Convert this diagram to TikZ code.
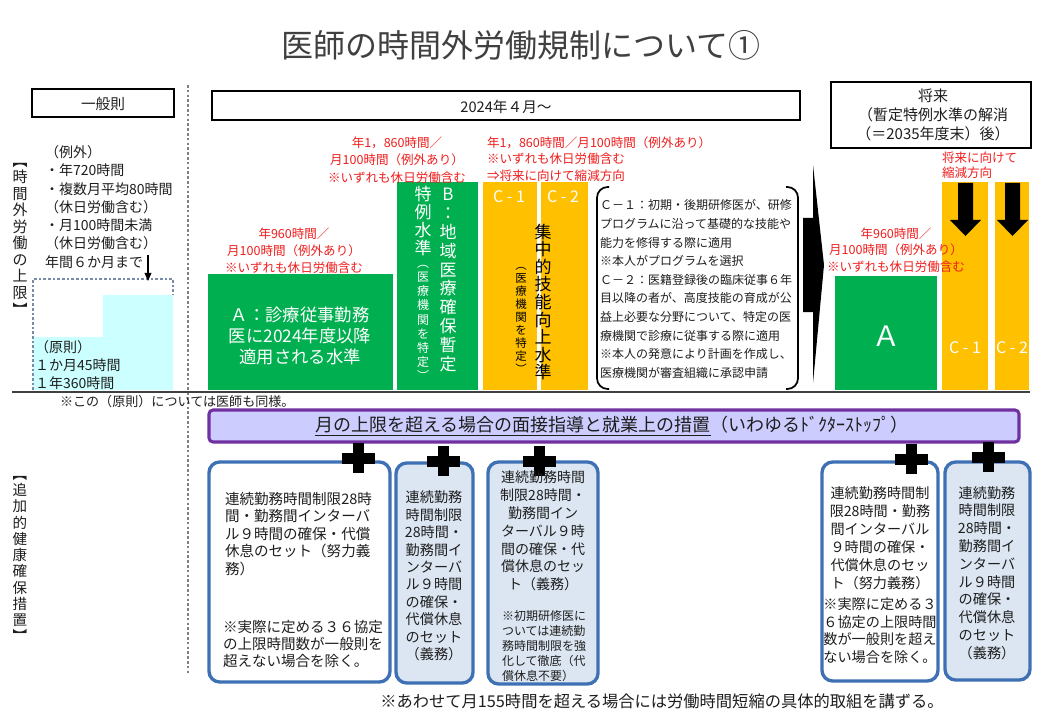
\documentclass[tikz,border=0pt]{standalone}
\usepackage{fontspec}
\setmainfont{Noto Sans CJK JP}
\usetikzlibrary{arrows.meta}
\definecolor{grn}{RGB}{0,176,80}
\definecolor{org}{RGB}{255,192,0}
\definecolor{redt}{RGB}{240,30,30}
\definecolor{cyanf}{RGB}{204,255,255}
\definecolor{purp}{RGB}{112,48,160}
\definecolor{lav}{RGB}{204,204,255}
\definecolor{bbord}{RGB}{62,112,180}
\definecolor{bfill}{RGB}{220,230,242}
\definecolor{txt}{RGB}{30,30,30}
\definecolor{ttl}{RGB}{64,64,64}
\definecolor{dashc}{RGB}{120,140,170}
\newcommand{\fs}[2]{\fontsize{#1pt}{#2pt}\selectfont}
\newcommand{\plusat}[2]{\fill (#1-16.5,#2-5.5) rectangle (#1+16.5,#2+5.5); \fill (#1-5.5,#2-15) rectangle (#1+5.5,#2+15);}
\begin{document}
\begin{tikzpicture}[x=0.75pt,y=-0.75pt,
  every node/.style={inner sep=0pt, outer sep=0pt, text=txt},
  hdrbox/.style={draw=black, line width=2.2pt, fill=white},
  redlbl/.style={text=redt, font=\fs{9.4}{12.6}, align=center},
  bluebox/.style={draw=bbord, line width=2.5pt, rounded corners=8pt},
  vtxt/.style={align=center},
  whitetxt/.style={text=white}
]
\useasboundingbox (0,0) rectangle (1049,720);
\fill[white] (0,0) rectangle (1049,720);

% title
\node[text=ttl, font=\fs{24}{28}] (title) at (521,45) {医師の時間外労働規制について①};

% header boxes
\draw[hdrbox] (32,89) rectangle (174,117);
\node[font=\fs{11}{13}] (ippan) at (103,104) {一般則};
\draw[hdrbox] (212,91) rectangle (800,120);
\node[font=\fs{11}{13}] (y2024) at (506,107) {2024年４月～};
\draw[hdrbox] (831,82) rectangle (1031,148);
\node[font=\fs{11.25}{14.25}, align=center] (future) at (933,115) {将来\\（暫定特例水準の解消\\（＝2035年度末）後）};

% dotted divider
\draw[gray, line width=0.9pt, dash pattern=on 2pt off 1.6pt] (188,85) -- (188,675);

% vertical side labels
\node[font=\fs{11.25}{12.4}, vtxt] (lbl1) at (20,239) {︻\\時\\間\\外\\労\\働\\の\\上\\限\\︼};
\node[font=\fs{10.9}{12.2}, vtxt] (lbl2) at (20,559) {︻\\追\\加\\的\\健\\康\\確\\保\\措\\置\\︼};

% general rule area
\fill[cyanf] (33,390) -- (33,337) -- (103,337) -- (103,295) -- (173,295) -- (173,390) -- cycle;
\draw[dashc, line width=0.8pt, dash pattern=on 2pt off 1.5pt] (33,390) -- (33,279) -- (173,279) -- (173,295);
\node[font=\fs{10.5}{13.7}, align=left, anchor=west] (exc) at (45,207) {（例外）\\・年720時間\\・複数月平均80時間\\（休日労働含む）\\・月100時間未満\\（休日労働含む）\\年間６か月まで};
\coordinate (arrtop) at (148,255);
\coordinate (arrbot) at (148,281);
\draw[-{Triangle[length=6pt,width=5pt]}, line width=1pt] (arrtop) -- (arrbot);
\node[font=\fs{10.5}{13.5}, align=left, anchor=west] (gensoku) at (35,365) {（原則）\\１か月45時間\\１年360時間};
\node[font=\fs{9.8}{12}, anchor=west] (note1) at (60,402) {※この（原則）については医師も同様。};

% A (2024)
\fill[grn] (208,274) rectangle (393,390);
\node[whitetxt, font=\fs{13}{15.75}, align=center] (atext) at (300,336) {Ａ：診療従事勤務\\医に2024年度以降\\適用される水準};
\node[redlbl] (reda) at (294,251) {年960時間／\\月100時間（例外あり）\\※いずれも休日労働含む};

% B
\fill[grn] (397,182) rectangle (478,390);
\node[whitetxt, font=\fs{12.75}{14.2}, vtxt] (bcol1) at (448,280) {B\\：\\地\\域\\医\\療\\確\\保\\暫\\定};
\node[whitetxt, font=\fs{12.75}{13.7}, vtxt] (bcol2) at (423,221) {特\\例\\水\\準};
\node[whitetxt, font=\fs{9}{10.6}, vtxt] (bcol3) at (423,323) {︵\\医\\療\\機\\関\\を\\特\\定\\︶};
\node[redlbl, font=\fs{9.4}{13}] (redb) at (397,160) {年1，860時間／\\月100時間（例外あり）\\※いずれも休日労働含む};

% C-1 / C-2
\fill[org] (483,182) rectangle (537,390);
\fill[org] (541,182) rectangle (588,390);
\node[whitetxt, font=\fs{12}{14}] (c1lbl) at (509,197) {C - 1};
\node[whitetxt, font=\fs{12}{14}] (c2lbl) at (563,197) {C - 2};
\node[font=\fs{12.75}{13.2}, vtxt, text=black] (ccol1) at (543,302) {集\\中\\的\\技\\能\\向\\上\\水\\準};
\node[font=\fs{8.6}{9.75}, vtxt, text=black] (ccol2) at (521,320) {︵\\医\\療\\機\\関\\を\\特\\定\\︶};
\node[redlbl, align=left, anchor=west] (redc) at (487,159) {年1，860時間／月100時間（例外あり）\\※いずれも休日労働含む\\⇒将来に向けて縮減方向};

% bracket explanation
\draw[line width=1.3pt, rounded corners=8pt] (609,187) -- (597,187) -- (597,389) -- (609,389);
\draw[line width=1.3pt, rounded corners=8pt] (786,187) -- (798,187) -- (798,389) -- (786,389);
\node[font=\fs{9}{13.95}, align=left, anchor=west] (cexpl) at (600,289) {Ｃ－１：初期・後期研修医が、研修\\プログラムに沿って基礎的な技能や\\能力を修得する際に適用\\※本人がプログラムを選択\\Ｃ－２：医籍登録後の臨床従事６年\\目以降の者が、高度技能の育成が公\\益上必要な分野について、特定の医\\療機関で診療に従事する際に適用\\※本人の発意により計画を作成し、\\医療機関が審査組織に承認申請};

% big arrow
\fill[black] (803,218) -- (813,218) -- (813,165) -- (824,265) -- (813,383) -- (813,312) -- (803,312) -- cycle;

% future section
\fill[grn] (835,276) rectangle (937,390);
\node[whitetxt, font=\fs{21}{24}] (afut) at (886,336) {Ａ};
\fill[org] (942,182) rectangle (988,390);
\fill[org] (995,182) rectangle (1029,390);
\node[whitetxt, font=\fs{12}{14}] (fc1) at (965,348) {C - 1};
\node[whitetxt, font=\fs{12}{14}] (fc2) at (1012,348) {C - 2};
\fill[black] (958,183) -- (973,183) -- (973,220) -- (981,220) -- (965.5,236) -- (950,220) -- (958,220) -- cycle;
\fill[black] (1005,183) -- (1020,183) -- (1020,220) -- (1028,220) -- (1012.5,236) -- (997,220) -- (1005,220) -- cycle;
\node[redlbl, font=\fs{9.4}{12.4}] (redfa) at (896,250) {年960時間／\\月100時間（例外あり）\\※いずれも休日労働含む};
\node[redlbl, font=\fs{9.4}{11.5}, align=left, anchor=west] (redfc) at (942,165) {将来に向けて\\縮減方向};

% base line
\draw[ttl, line width=1.5pt] (12,391.5) -- (1030,391.5);

% purple bar
\draw[draw=purp, fill=lav, line width=2.3pt, rounded corners=3pt] (209,410) rectangle (1019,442);
\node[font=\fs{13.5}{16}] (doctor) at (612,426) {\underline{月の上限を超える場合の面接指導と就業上の措置}（いわゆるﾄﾞｸﾀｰｽﾄｯﾌﾟ）};

% bottom boxes
\draw[bluebox, fill=white] (209,462) rectangle (390,682);
\draw[bluebox, fill=bfill] (396,463) rectangle (473,683);
\draw[bluebox, fill=bfill] (488,462) rectangle (598,684);
\draw[bluebox, fill=white] (822,462) rectangle (938,681);
\draw[bluebox, fill=bfill] (945,462) rectangle (1030,680);

\plusat{358}{458}
\plusat{443}{461}
\plusat{539}{461}
\plusat{911}{459}
\plusat{988}{457}

\node[font=\fs{10.9}{13.1}, align=left, anchor=west] (b1a) at (225,534) {連続勤務時間制限28時\\間・勤務間インターバ\\ル９時間の確保・代償\\休息のセット（努力義\\務）};
\node[font=\fs{10.9}{13.1}, align=left, anchor=west] (b1b) at (223,644) {※実際に定める３６協定\\の上限時間数が一般則を\\超えない場合を除く。};
\node[font=\fs{10.6}{13.05}, align=center] (b2) at (434,576) {連続勤務\\時間制限\\28時間・\\勤務間イ\\ンターバ\\ル９時間\\の確保・\\代償休息\\のセット\\（義務）};
\node[font=\fs{10.5}{13.4}, align=center] (b3a) at (543,531) {連続勤務時間\\制限28時間・\\勤務間イン\\ターバル９時\\間の確保・代\\償休息のセッ\\ト（義務）};
\node[font=\fs{9}{11.25}, align=left] (b3b) at (544,646) {※初期研修医に\\ついては連続勤\\務時間制限を強\\化して徹底（代\\償休息不要）};
\node[font=\fs{10.6}{13.5}, align=center] (b4a) at (880,538) {連続勤務時間制\\限28時間・勤務\\間インターバル\\９時間の確保・\\代償休息のセッ\\ト（努力義務）};
\node[font=\fs{10.6}{13.2}, align=center] (b4b) at (880,630.5) {※実際に定める３\\６協定の上限時間\\数が一般則を超え\\ない場合を除く。};
\node[font=\fs{10.6}{13.35}, align=center] (b5) at (987,573) {連続勤務\\時間制限\\28時間・\\勤務間イ\\ンターバ\\ル９時間\\の確保・\\代償休息\\のセット\\（義務）};

% bottom note
\node[font=\fs{12.2}{14}] (note2) at (662,701) {※あわせて月155時間を超える場合には労働時間短縮の具体的取組を講ずる。};
\end{tikzpicture}
\end{document}
